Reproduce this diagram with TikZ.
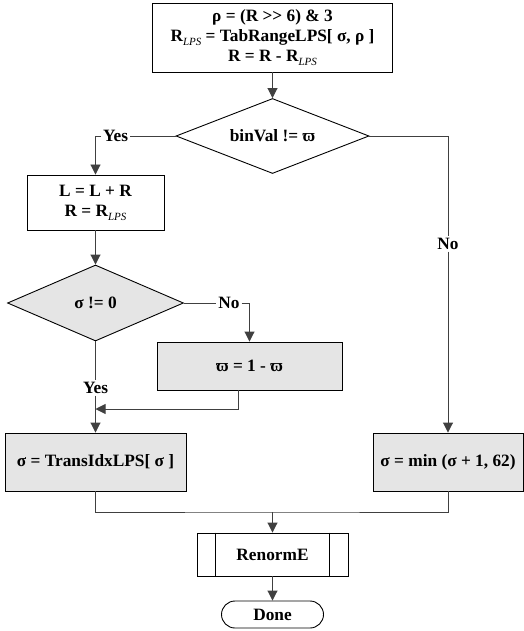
\documentclass[tikz,border=0pt]{standalone}
\usepackage{fontspec}
\setmainfont{Liberation Serif}
\usetikzlibrary{shapes.geometric, shapes.misc, arrows.meta}
\newcommand\lps{\raisebox{-4pt}{\fontsize{11}{11}\selectfont\mdseries\itshape LPS}}
\newcommand\boxfill{black!10}
\newcommand\subbar{19pt}

\begin{document}
\begin{tikzpicture}[yscale = -1, x = 1pt, y = 1pt, line width = 0.9pt,
	font = \fontsize{17.3}{20}\selectfont\bfseries,
	block/.style = {draw, rectangle, align = center, inner sep = 0pt},
	decision/.style = {draw, diamond, aspect = 2.6, inner sep = 0pt},
	answer/.style = {inner sep = 1.5pt},
	wire/.style = {draw = black!75},
	flow/.style = {draw = black!75, -{Triangle[length = 10pt, width = 10pt]}}
]
	\useasboundingbox (0, 0) rectangle (523, 631);

	% Bloecke
	\node [block, minimum width = 240pt, minimum height = 69pt] (range) at (272.5, 37.5)
		{ρ = (R >{}> 6) \& 3\\R\lps{} = TabRangeLPS[ σ, ρ ]\\R = R - R\lps};
	\node [decision, minimum width = 193pt, minimum height = 75pt] (bin) at (272.5, 136) {binVal != ϖ};
	\node [block, minimum width = 137pt, minimum height = 55pt] (lps) at (95.5, 202.5) {L = L + R\\R = R\lps};
	\node [decision, fill = \boxfill, minimum width = 176pt, minimum height = 76pt] (zero) at (95.5, 303) {σ != 0};
	\node [block, fill = \boxfill, minimum width = 185pt, minimum height = 48pt] (flip) at (249.5, 366) {ϖ = 1 - ϖ};
	\node [block, fill = \boxfill, minimum width = 181pt, minimum height = 58pt] (trans) at (95.5, 462) {σ = TransIdxLPS[ σ ]};
	\node [block, fill = \boxfill, minimum width = 150pt, minimum height = 58pt] (incr) at (448, 462) {σ = min (σ + 1, 62)};
	\node [block, minimum width = 151pt, minimum height = 43pt] (renorm) at (272.5, 554.5) {RenormE};
	\draw ([xshift = \subbar]renorm.north west) -- ([xshift = \subbar]renorm.south west);
	\draw ([xshift = -\subbar]renorm.north east) -- ([xshift = -\subbar]renorm.south east);
	\node [draw, rounded rectangle, minimum width = 102pt, minimum height = 27pt, inner sep = 0pt] (done) at (272.5, 614.5) {Done};

	% Antworten
	\node [answer] (yesbin) at (115.5, 136) {Yes};
	\node [answer] (nobin) at (448, 244) {No};
	\node [answer] (nozero) at (229, 303) {No};
	\node [answer] (yeszero) at (95.5, 388) {Yes};
	\coordinate (merge) at (95.5, 409);
	\coordinate (join) at (272.5, 512);

	% Verbindungen
	\draw [flow] (range) -- (bin);
	\draw [flow] (bin.west) -- (yesbin) -| (lps.north);
	\draw [flow] (bin.east) -| (nobin) -- (incr);
	\draw [flow] (lps) -- (zero);
	\draw [flow] (zero.east) -- (nozero) -| (flip.north);
	\draw [wire] (zero) -- (yeszero);
	\draw [flow] (yeszero) -- (trans);
	\draw [flow] ([xshift = -11.5pt]flip.south) |- (merge);
	\draw [wire] (trans.south) |- (join) -| (incr.south);
	\draw [flow] (join) -- (renorm);
	\draw [flow] (renorm) -- (done);
\end{tikzpicture}
\end{document}
